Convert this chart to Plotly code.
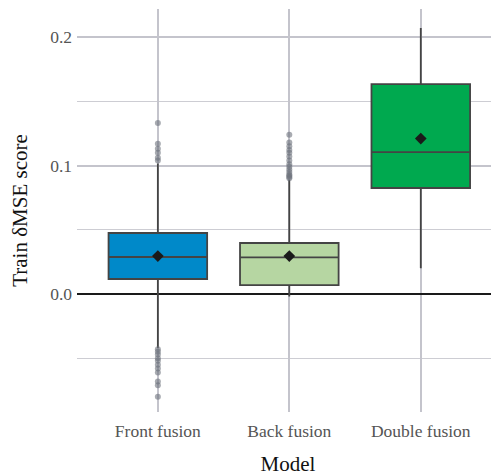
import plotly.graph_objects as go

models = ["Front fusion", "Back fusion", "Double fusion"]
colors = ["#0089c9", "#b6d6a2", "#00a94f"]
q1 = [0.0117, 0.0070, 0.0825]
median = [0.0288, 0.0285, 0.1105]
q3 = [0.0475, 0.0397, 0.1634]
lowerfence = [-0.042, -0.002, 0.020]
upperfence = [0.1015, 0.089, 0.207]
means = [0.0295, 0.0295, 0.121]
outliers_front = [0.104, 0.106, 0.110, 0.113, 0.117, 0.133,
                  -0.043, -0.045, -0.047, -0.050, -0.052, -0.055, -0.058,
                  -0.061, -0.068, -0.071, -0.080]
outliers_back = [0.124, 0.118, 0.115, 0.112, 0.110, 0.107, 0.104, 0.101,
                 0.099, 0.097, 0.095, 0.093, 0.092, 0.091, 0.090]

fig = go.Figure()
for i, m in enumerate(models):
    fig.add_trace(go.Box(
        x=[m], q1=[q1[i]], median=[median[i]], q3=[q3[i]],
        lowerfence=[lowerfence[i]], upperfence=[upperfence[i]],
        fillcolor=colors[i], line=dict(color="#444444", width=1.8),
        whiskerwidth=0, width=0.75, showlegend=False, hoverinfo="skip"))

out_x = [models[0]] * len(outliers_front) + [models[1]] * len(outliers_back)
out_y = outliers_front + outliers_back
fig.add_trace(go.Scatter(x=out_x, y=out_y, mode="markers",
                         marker=dict(color="rgba(110,115,125,0.6)", size=6),
                         showlegend=False))
fig.add_trace(go.Scatter(x=models, y=means, mode="markers",
                         marker=dict(color="#1a1a1a", symbol="diamond", size=9),
                         showlegend=False))

font = "Liberation Serif, Times New Roman, serif"
fig.update_layout(
    width=491, height=468,
    margin=dict(l=69, r=0, t=1, b=64),
    plot_bgcolor="white", paper_bgcolor="white",
    font=dict(family=font),
    xaxis=dict(
        title=dict(text="Model", font=dict(size=21, color="#111"), standoff=20),
        automargin=False,
        categoryorder="array", categoryarray=models,
        range=[-0.615, 2.595],
        showgrid=True, gridcolor="#c4c4cc", gridwidth=1.5,
        tickfont=dict(size=17.5, color="#555"), ticks="", ticklen=0,
        ticklabelstandoff=6,
        zeroline=False, showline=False),
    yaxis=dict(
        title=dict(text="Train δMSE score", font=dict(size=21, color="#111"), standoff=20),
        automargin=False,
        range=[-0.0918, 0.2218],
        tickvals=[0.0, 0.1, 0.2], ticktext=["0.0", "0.1", "0.2"],
        showgrid=True, gridcolor="#c4c4cc", gridwidth=1.5,
        minor=dict(tickvals=[-0.05, 0.05, 0.15], showgrid=True,
                   gridcolor="#cdcdd3", gridwidth=1),
        tickfont=dict(size=17.5, color="#555"), ticks="",
        ticklabelstandoff=4,
        zeroline=True, zerolinecolor="#1a1a1a", zerolinewidth=2,
        showline=False),
)
fig.write_html("out.html")
